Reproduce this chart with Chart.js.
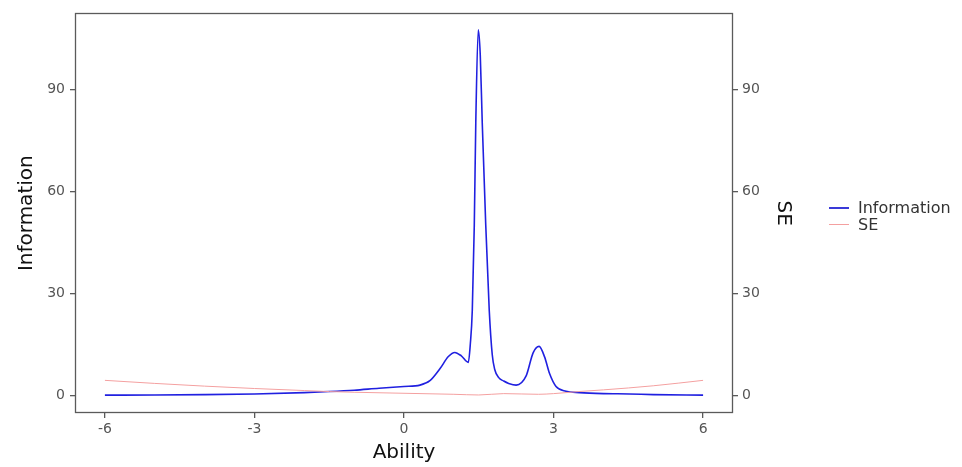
<!DOCTYPE html>
<html>
<head>
<meta charset="utf-8">
<script src="https://cdn.jsdelivr.net/npm/chart.js@4/dist/chart.umd.min.js"></script>
<style>
html,body{margin:0;padding:0;background:#fff;}
#wrap{position:relative;width:962px;height:467px;}
#legend{position:absolute;left:829px;top:199px;font-family:"DejaVu Sans",sans-serif;font-size:16px;color:#333;}
#legend .row{display:flex;align-items:center;height:17px;}
#legend .sw{width:20px;margin-right:9px;}
</style>
</head>
<body>
<div id="wrap">
<canvas id="c" width="962" height="467"></canvas>
<div id="legend">
  <div class="row"><div class="sw" style="border-top:2px solid #3a3ad8"></div><span>Information</span></div>
  <div class="row"><div class="sw" style="border-top:1px solid #f4a0a0"></div><span>SE</span></div>
</div>
</div>
<script>
const abilityInfo = [-6,-5,-4,-3,-2,-1.5,-1,-0.5,0,0.32,0.52,0.72,0.89,1.02,1.15,1.29,1.33,1.37,1.41,1.44,1.49,1.53,1.57,1.64,1.71,1.77,1.82,1.9,2.0,2.1,2.25,2.45,2.59,2.71,2.82,2.92,3.05,3.25,3.52,4.0,4.52,5.0,6.0];
const information = [0.05,0.1,0.2,0.4,0.8,1.1,1.5,2.1,2.6,3.0,4.3,7.8,11.4,12.6,11.6,9.7,15,25,50,80,107.5,100,80,50,25,12,7.6,5.2,4.2,3.5,3.0,5.7,12.5,14.4,11.3,6.4,2.6,1.2,0.8,0.5,0.4,0.2,0.05];
const abilitySE = [-6,-5,-4,-3,-2,-1.5,-1,0,1,1.5,2,2.7,3,3.5,4,5,6];
const seValues = [4.4,3.5,2.7,2.0,1.4,1.1,0.9,0.6,0.3,0.1,0.5,0.3,0.5,1.1,1.6,2.8,4.4];
const xTicks = [-6,-3,0,3,6];
const yTicks = [0,30,60,90];

const tickFont = {family:"DejaVu Sans", size:14};
const titleFont = {family:"DejaVu Sans", size:20};
const tickColor = '#555';

const borderPlugin = {
  id:'panelBorder',
  afterDraw(chart){
    const a = chart.chartArea, ctx = chart.ctx;
    ctx.save();
    ctx.strokeStyle = '#5a5a5a';
    ctx.lineWidth = 1.3;
    ctx.strokeRect(Math.round(a.left)+0.5, Math.round(a.top)+0.5, Math.round(a.right-a.left)-1, Math.round(a.bottom-a.top)-1);
    ctx.restore();
  }
};

function fixedTicks(vals){ return function(scale){ scale.ticks = vals.map(v=>({value:v})); }; }

new Chart(document.getElementById('c'), {
  type:'line',
  data:{
    datasets:[
      {label:'SE', data: abilitySE.map((x,i)=>({x:x,y:seValues[i]})), borderColor:'#f4a0a0', borderWidth:1, pointRadius:0, cubicInterpolationMode:'monotone', fill:false, yAxisID:'y'},
      {label:'Information', data: abilityInfo.map((x,i)=>({x:x,y:information[i]})), borderColor:'#2020e0', borderWidth:1.6, pointRadius:0, cubicInterpolationMode:'monotone', fill:false, yAxisID:'y'}
    ]
  },
  options:{
    responsive:false, animation:false,
    layout:{padding:{left:0,right:167,top:13,bottom:0}},
    plugins:{legend:{display:false}, tooltip:{enabled:false}},
    scales:{
      x:{type:'linear', min:-6.6, max:6.6, afterBuildTicks:fixedTicks(xTicks),
         afterFit(s){ s.height = 54; },
         grid:{drawOnChartArea:false, tickLength:5, color:'#5a5a5a', lineWidth:1.3},
         border:{display:false},
         ticks:{font:tickFont, color:tickColor, padding:3, maxRotation:0},
         title:{display:true, text:'Ability', font:titleFont, color:'#111', padding:{top:0,bottom:2}}},
      y:{type:'linear', position:'left', min:-5.2, max:112.3, afterBuildTicks:fixedTicks(yTicks),
         afterFit(s){ s.width = 75; },
         grid:{drawOnChartArea:false, tickLength:5, color:'#5a5a5a', lineWidth:1.3},
         border:{display:false},
         ticks:{font:tickFont, color:tickColor, padding:5},
         title:{display:true, text:'Information', font:titleFont, color:'#111', padding:{top:15,bottom:0}}},
      y2:{type:'linear', position:'right', min:-5.2, max:112.3, afterBuildTicks:fixedTicks(yTicks),
         afterFit(s){ s.width = 62; },
         grid:{drawOnChartArea:false, tickLength:5, color:'#5a5a5a', lineWidth:1.3},
         border:{display:false},
         ticks:{font:tickFont, color:tickColor, padding:4},
         title:{display:true, text:'SE', font:titleFont, color:'#111', padding:{top:0,bottom:2}}}
    }
  },
  plugins:[borderPlugin]
});
</script>
</body>
</html>
